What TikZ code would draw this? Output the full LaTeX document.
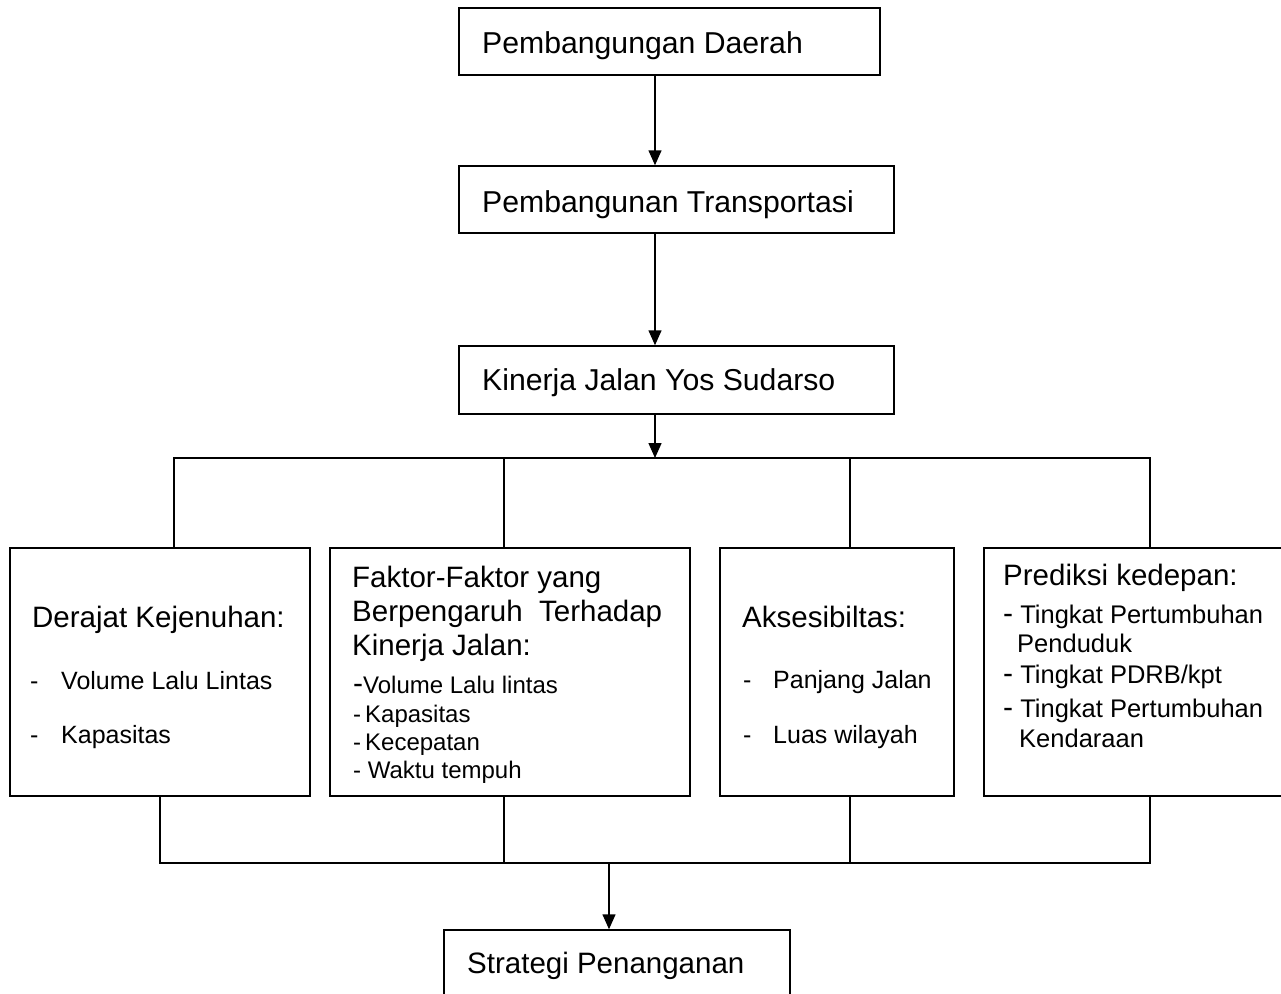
\documentclass[tikz,border=0pt]{standalone}
\usepackage{fontspec}
\setmainfont{Liberation Sans}
\usetikzlibrary{arrows.meta}
\tikzset{
  box/.style={draw=black, line width=1.5pt, inner sep=0pt, fill=white},
  conn/.style={draw=black, line width=1.5pt},
  arr/.style={conn, -{Triangle[length=15pt,width=13pt]}},
  big/.style={font=\fontsize{29.5}{34}\selectfont, anchor=base west, inner sep=0pt},
  top/.style={font=\fontsize{30.2}{34}\selectfont, anchor=base west, inner sep=0pt},
  small/.style={font=\fontsize{24}{28}\selectfont, anchor=base west, inner sep=0pt},
  smallb/.style={font=\fontsize{25}{28}\selectfont, anchor=base west, inner sep=0pt},
  smallc/.style={font=\fontsize{25.5}{28}\selectfont, anchor=base west, inner sep=0pt},
}
\newcommand{\bigdash}{{\fontsize{30}{30}\selectfont -}}
\begin{document}
\begin{tikzpicture}[x=1pt,y=-1pt]
\useasboundingbox (0,0) rectangle (1281,993);
\fill[white] (0,0) rectangle (1281,993);
\clip (0,0) rectangle (1281,993);

% boxes
\node[box, minimum width=421pt, minimum height=67pt] (b1) at (669.5,41.5) {};
\node[box, minimum width=435pt, minimum height=67pt] (b2) at (676.5,199.5) {};
\node[box, minimum width=435pt, minimum height=68pt] (b3) at (676.5,380) {};
\node[box, minimum width=300pt, minimum height=248pt] (cA) at (160,672) {};
\node[box, minimum width=360pt, minimum height=248pt] (cB) at (510,672) {};
\node[box, minimum width=234pt, minimum height=248pt] (cC) at (837,672) {};
\node[box, minimum width=320pt, minimum height=248pt] (cD) at (1144,672) {};
\node[box, minimum width=346pt, minimum height=90pt] (s) at (617,975) {};

% coordinates for connectors
\coordinate (ax) at (655,458);
\coordinate (tA) at (174,458);
\coordinate (tB) at (504,458);
\coordinate (tC) at (850,458);
\coordinate (tD) at (1150,458);
\coordinate (uA) at (160,863);
\coordinate (uB) at (504,863);
\coordinate (uC) at (850,863);
\coordinate (uD) at (1150,863);
\coordinate (uS) at (609,863);

% connectors
\draw[arr] (b1.south -| ax) -- (b2.north -| ax);
\draw[arr] (b2.south -| ax) -- (b3.north -| ax);
\draw[arr] (b3.south -| ax) -- (ax);
\draw[conn] (cA.north -| tA) -- (tA) -- (tD) -- (cD.north -| tD);
\draw[conn] (tB) -- (cB.north -| tB);
\draw[conn] (tC) -- (cC.north -| tC);
\draw[conn] (cA.south -| uA) -- (uA) -- (uD) -- (cD.south -| uD);
\draw[conn] (cB.south -| uB) -- (uB);
\draw[conn] (cC.south -| uC) -- (uC);
\draw[arr] (uS) -- (s.north -| uS);

% texts
\node[top] (t1) at (482,53) {Pembangungan Daerah};
\node[top] (t2) at (482,212) {Pembangunan Transportasi};
\node[top] (t3) at (482,390) {Kinerja Jalan Yos Sudarso};

\node[big] (a0) at (32,627) {Derajat Kejenuhan:};
\node[smallb] (a1d) at (30,689) {-};
\node[smallb] (a1) at (61,689) {Volume Lalu Lintas};
\node[smallb] (a2d) at (30,743) {-};
\node[smallb] (a2) at (61,743) {Kapasitas};

\node[big] (b0a) at (352,587) {Faktor-Faktor yang};
\node[big] (b0b) at (352,621) {Berpengaruh\ \ Terhadap};
\node[big] (b0c) at (352,655) {Kinerja Jalan:};
\node[small] (bi1) at (353,693) {\bigdash Volume Lalu lintas};
\node[small] (bi2) at (353,722) {-\,Kapasitas};
\node[small] (bi3) at (353,750) {-\,Kecepatan};
\node[small] (bi4) at (353,778) {- Waktu tempuh};

\node[big] (c0) at (742,627) {Aksesibiltas:};
\node[smallb] (c1d) at (743,688) {-};
\node[smallb] (c1) at (773,688) {Panjang Jalan};
\node[smallb] (c2d) at (743,743) {-};
\node[smallb] (c2) at (773,743) {Luas wilayah};

\node[big] (d0) at (1003,585) {Prediksi kedepan:};
\node[smallc] (d1) at (1003,623) {\bigdash\ Tingkat Pertumbuhan};
\node[smallc] (d1b) at (1017,652) {Penduduk};
\node[smallc] (d2) at (1003,683) {\bigdash\ Tingkat PDRB/kpt};
\node[smallc] (d3) at (1003,717) {\bigdash\ Tingkat Pertumbuhan};
\node[smallc] (d3b) at (1019,747) {Kendaraan};

\node[big] (s0) at (467,973) {Strategi Penanganan};
\end{tikzpicture}
\end{document}
